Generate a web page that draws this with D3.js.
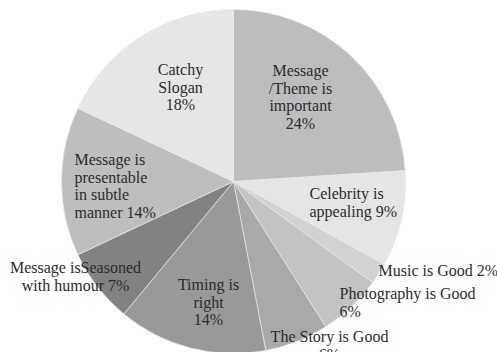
<!DOCTYPE html>
<html>
<head>
<meta charset="utf-8">
<script src="https://cdn.jsdelivr.net/npm/d3@7"></script>
<style>
  html, body { margin: 0; padding: 0; background: #fff; }
  svg { display: block; }
  text.label { font-family: "Liberation Serif", "DejaVu Serif", serif; font-size: 16px; }
</style>
</head>
<body>
<svg id="chart" width="497" height="352"></svg>
<script>
// Factors that make an advertisement appealing (share of responses, %)
const categories = [
  "Message /Theme is important",
  "Celebrity is appealing",
  "Music is Good",
  "Photography is Good",
  "The Story is Good",
  "Timing is right",
  "Message isSeasoned with humour",
  "Message is presentable in subtle manner",
  "Catchy Slogan"
];
const values = [24, 9, 2, 6, 6, 14, 7, 14, 18];

// Label text, broken into the lines it is printed on
const labelLines = [
  ["Message", "/Theme is", "important", "24%"],
  ["Celebrity is", "appealing 9%"],
  ["Music is Good 2%"],
  ["Photography is Good", "6%"],
  ["The Story is Good", "6%"],
  ["Timing is", "right", "14%"],
  ["Message isSeasoned", "with humour 7%"],
  ["Message is", "presentable", "in subtle", "manner 14%"],
  ["Catchy", "Slogan", "18%"]
];

const fills = ["#bdbdbe", "#e5e5e6", "#d2d2d3", "#c3c3c4", "#a9a9aa",
               "#999999", "#828282", "#bebebf", "#e6e6e7"];

// Label placement: offset of the first line from the pie centre, and alignment
const labelLayout = [
  { dx: 67,   dy: -111, anchor: "middle" },
  { dx: 76,   dy: 12,   anchor: "start" },
  { dx: 145,  dy: 89,   anchor: "start" },
  { dx: 106,  dy: 112,  anchor: "start" },
  { dx: 96,   dy: 155,  anchor: "middle" },
  { dx: -25,  dy: 103,  anchor: "middle" },
  { dx: -158, dy: 86,   anchor: "middle" },
  { dx: -159, dy: -22,  anchor: "start" },
  { dx: -53,  dy: -112, anchor: "middle" }
];

const svg = d3.select("#chart");
const cx = 233.5, cy = 181.5, radius = 172, lineHeight = 17.7;

const data = categories.map((c, i) => ({ name: c, value: values[i], i }));

const pie = d3.pie().sort(null).value(d => d.value).startAngle(0).endAngle(2 * Math.PI);
const arc = d3.arc().innerRadius(0).outerRadius(radius);

const g = svg.append("g").attr("transform", `translate(${cx},${cy})`);

g.selectAll("path.slice")
  .data(pie(data))
  .join("path")
  .attr("class", "slice")
  .attr("d", arc)
  .attr("fill", d => fills[d.data.i])
  .attr("stroke", "#e8e8e8")
  .attr("stroke-width", 0.7);

const labels = g.selectAll("text.label")
  .data(data)
  .join("text")
  .attr("class", "label")
  .attr("fill", "#2b2b2b")
  .attr("text-anchor", d => labelLayout[d.i].anchor)
  .attr("transform", d => `translate(${labelLayout[d.i].dx},${labelLayout[d.i].dy})`);

labels.selectAll("tspan")
  .data(d => labelLines[d.i].map((t, k) => ({ t, k })))
  .join("tspan")
  .attr("x", 0)
  .attr("y", d => d.k * lineHeight)
  .attr("dominant-baseline", "central")
  .text(d => d.t);
</script>
</body>
</html>
